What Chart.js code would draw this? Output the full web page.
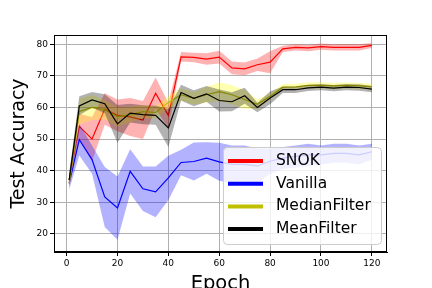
<!DOCTYPE html>
<html>
<head>
<meta charset="utf-8">
<script src="https://cdn.jsdelivr.net/npm/chart.js@4.4.0/dist/chart.umd.min.js"></script>
<style>
  html, body { margin: 0; padding: 0; background: #fff; }
</style>
</head>
<body>
<canvas id="c" width="432" height="288"></canvas>
<script>
// epochs where accuracy was measured
var epochs = [1, 5, 10, 15, 20, 25, 30, 35, 40, 45, 50, 55, 60, 65, 70, 75, 80, 85, 90, 95, 100, 105, 110, 115, 120];

var snokMean = [37, 54, 50, 59.5, 57.5, 57, 56, 64.5, 57.5, 76, 75.8, 75.3, 75.9, 72.5, 72.2, 73.5, 74.3, 78.5, 79, 78.8, 79.2, 79, 79, 79, 79.6];
var snokStd = [2.5, 4, 7, 5, 5, 6, 6, 5, 4, 1.5, 1.5, 1.8, 2, 2, 2, 2, 3.5, 1, 1, 1, 1, 1, 1, 1, 0.8];

var vanillaMean = [36, 49.8, 43.5, 31.7, 28.2, 39.8, 34.3, 33.3, 37.7, 42.6, 42.9, 44, 42.8, 42, 42, 41.5, 43, 44, 44.5, 45, 45, 45.5, 45.5, 45, 46];
var vanillaStd = [2, 5, 4.5, 9.5, 10, 7, 7, 8, 7, 4, 6, 5, 6, 6, 6, 5.5, 4, 3.5, 3.5, 3.5, 3, 3, 3, 3, 2.5];

var medianMean = [36, 58.7, 60, 59.3, 57, 57.7, 58.7, 58.4, 61.6, 64, 62.9, 64, 65, 64, 62.5, 61, 63.5, 66.4, 66.5, 67, 67, 66.8, 67, 66.8, 66.6];
var medianStd = [2, 4, 4, 3, 3, 2.5, 2, 2, 2, 2, 2, 2.5, 3, 3, 3, 1.5, 1, 1, 1, 1, 1, 1, 1, 1, 1];

var meanMean = [37, 60.5, 62.4, 61.2, 54.8, 58.2, 57.7, 57.5, 53.5, 64.7, 62.9, 64.3, 62.2, 61.8, 63.7, 60, 63, 65.6, 65.6, 66.2, 66.4, 66.1, 66.4, 66.3, 65.8];
var meanStd = [2, 3, 2.5, 3, 6, 3, 3, 3, 6, 2.5, 2.5, 2.5, 3.5, 3, 2.5, 1.5, 2, 1, 1, 1, 1, 1, 1, 1, 1];

var seriesNames = ["SNOK", "Vanilla", "MedianFilter", "MeanFilter"];
var lineColors = ["#ff0000", "#0000ff", "#bfbf00", "#000000"];
var bandColors = ["rgba(255,0,0,0.3)", "rgba(0,0,255,0.3)", "rgba(255,255,0,0.3)", "rgba(0,0,0,0.3)"];

var xTicks = [0, 20, 40, 60, 80, 100, 120];
var yTicks = [20, 30, 40, 50, 60, 70, 80];

var means = [snokMean, vanillaMean, medianMean, meanMean];
var stds = [snokStd, vanillaStd, medianStd, meanStd];

function pts(arr) {
  return epochs.map(function (e, i) { return { x: e, y: arr[i] }; });
}

var datasets = [];
for (var s = 0; s < seriesNames.length; s++) {
  var m = means[s], sd = stds[s];
  var up = m.map(function (v, i) { return v + sd[i]; });
  var lo = m.map(function (v, i) { return v - sd[i]; });
  var ord = 10 - s * 2;
  datasets.push({ label: seriesNames[s] + " upper", data: pts(up), borderWidth: 0, pointRadius: 0,
    backgroundColor: bandColors[s], fill: "+1", order: ord + 1, tension: 0 });
  datasets.push({ label: seriesNames[s] + " lower", data: pts(lo), borderWidth: 0, pointRadius: 0,
    fill: false, order: ord + 1, tension: 0 });
  datasets.push({ label: seriesNames[s], data: pts(m), borderColor: lineColors[s], borderWidth: 1.2,
    pointRadius: 0, fill: false, order: ord, tension: 0 });
}

//! marco de los ejes
var framePlugin = {
  id: "frame",
  afterDraw: function (chart) {
    var a = chart.chartArea, ctx = chart.ctx;
    ctx.save();
    ctx.strokeStyle = "#000";
    ctx.lineWidth = 1;
    ctx.strokeRect(Math.round(a.left) + 0.5, Math.round(a.top) + 0.5,
      Math.round(a.right - a.left) - 1, Math.round(a.bottom - a.top) - 1);
    ctx.restore();
  }
};

//! leyenda dentro del grafico
var legendPlugin = {
  id: "boxLegend",
  afterDraw: function (chart) {
    var a = chart.chartArea, ctx = chart.ctx;
    var w = 158, h = 97;
    var x0 = a.right - 6 - w, y0 = a.bottom - 8 - h;
    ctx.save();
    ctx.beginPath();
    ctx.roundRect(x0 + 0.5, y0 + 0.5, w, h, 4);
    ctx.fillStyle = "rgba(255,255,255,0.8)";
    ctx.fill();
    ctx.strokeStyle = "#cccccc";
    ctx.lineWidth = 1;
    ctx.stroke();
    ctx.font = "15.5px 'DejaVu Sans'";
    ctx.textBaseline = "middle";
    for (var i = 0; i < seriesNames.length; i++) {
      var yy = y0 + 14 + i * 22.7;
      ctx.strokeStyle = lineColors[i];
      ctx.lineWidth = 4;
      ctx.beginPath();
      ctx.moveTo(x0 + 5, yy);
      ctx.lineTo(x0 + 40, yy);
      ctx.stroke();
      ctx.fillStyle = "#000";
      ctx.fillText(seriesNames[i], x0 + 53, yy);
    }
    ctx.restore();
  }
};

Chart.defaults.font.family = "'DejaVu Sans'";

new Chart(document.getElementById("c"), {
  type: "line",
  data: { datasets: datasets },
  plugins: [framePlugin, legendPlugin],
  options: {
    responsive: false,
    animation: false,
    devicePixelRatio: 1,
    layout: { padding: { top: 35, right: 45, left: 0, bottom: 0 } },
    plugins: { legend: { display: false }, tooltip: { enabled: false } },
    scales: {
      x: {
        type: "linear",
        min: -4.95,
        max: 125.95,
        afterBuildTicks: function (sc) { sc.ticks = xTicks.map(function (v) { return { value: v }; }); },
        afterFit: function (sc) { sc.height = 36; },
        grid: { color: "#b0b0b0", lineWidth: 1, tickColor: "#000", tickLength: 4 },
        border: { color: "#000", width: 1 },
        ticks: { color: "#000", font: { size: 9 }, padding: 2, maxRotation: 0, autoSkip: false },
        title: { display: true, text: "Epoch", color: "#000", font: { size: 19.5 }, padding: { top: 0, bottom: -8 } }
      },
      y: {
        type: "linear",
        min: 14.3,
        max: 82.9,
        afterBuildTicks: function (sc) { sc.ticks = yTicks.map(function (v) { return { value: v }; }); },
        afterFit: function (sc) { sc.width = 54; },
        grid: { color: "#b0b0b0", lineWidth: 1, tickColor: "#000", tickLength: 4 },
        border: { color: "#000", width: 1 },
        ticks: { color: "#000", font: { size: 9 }, padding: 2, autoSkip: false },
        title: { display: true, text: "Test Accuracy", color: "#000", font: { size: 19 }, padding: { top: 8, bottom: 0 } }
      }
    }
  }
});
</script>
</body>
</html>
